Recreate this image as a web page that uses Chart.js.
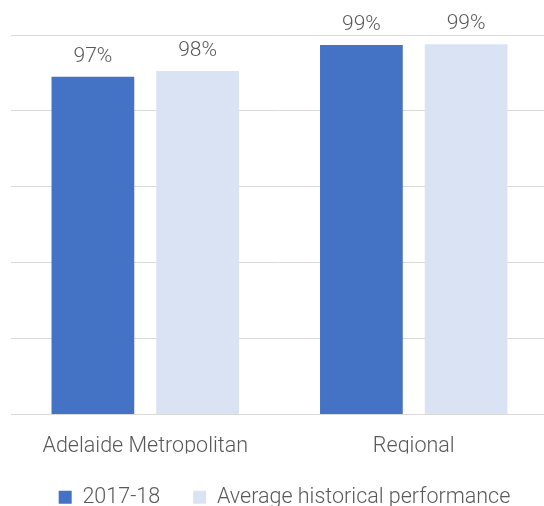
<!DOCTYPE html>
<html>
<head>
<meta charset="utf-8">
<script src="https://cdn.jsdelivr.net/npm/chart.js@4/dist/chart.umd.min.js"></script>
<style>
    html, body { margin: 0; padding: 0; background: #fff; }
    #frame { width: 544px; height: 506px; overflow: hidden; position: relative; }
    #wrap { width: 550px; height: 506px; position: absolute; left: 0; top: 0; }
</style>
</head>
<body>
<div id="frame">
    <div id="wrap"><canvas id="regionChart"></canvas></div>
</div>
<script>
// ============================================
// Data
// ============================================
const regions = ['Adelaide Metropolitan', 'Regional'];
const current = [0.9725, 0.9934];      // 2017-18
const historical = [0.9763, 0.9939];   // Average historical performance
const seriesNames = ['2017-18', 'Average historical performance'];

const axisMin = 0.75;
const axisMax = 1.0;
const axisStep = 0.05;

const textColor = '#595959';
const fontFamily = 'Roboto, "Noto Sans", sans-serif';

// ============================================
// Value labels above each bar
// ============================================
const valueLabels = {
    id: 'valueLabels',
    afterDatasetsDraw(chart) {
        const ctx = chart.ctx;
        ctx.save();
        ctx.fillStyle = textColor;
        ctx.font = '300 21px ' + fontFamily;
        ctx.textAlign = 'center';
        ctx.textBaseline = 'alphabetic';
        chart.data.datasets.forEach((ds, i) => {
            chart.getDatasetMeta(i).data.forEach((bar, j) => {
                const txt = Math.round(ds.data[j] * 100) + '%';
                ctx.fillText(txt, bar.x, bar.y - 15);
            });
        });
        ctx.restore();
    }
};

// nudge the legend a little to the right of centre
const legendShift = {
    id: 'legendShift',
    afterLayout(chart) {
        if (chart.legend) {
            chart.legend.left += 5;
            chart.legend.right += 5;
        }
    }
};

new Chart(document.getElementById('regionChart'), {
    type: 'bar',
    data: {
        labels: regions,
        datasets: [
            {
                label: seriesNames[0],
                data: current,
                backgroundColor: '#4472C4',
                barPercentage: 0.79,
                categoryPercentage: 0.78
            },
            {
                label: seriesNames[1],
                data: historical,
                backgroundColor: '#DAE3F3',
                barPercentage: 0.79,
                categoryPercentage: 0.78
            }
        ]
    },
    options: {
        responsive: true,
        maintainAspectRatio: false,
        animation: false,
        layout: {
            padding: { left: 11, right: 2, top: 35, bottom: -12 }
        },
        plugins: {
            legend: {
                position: 'bottom',
                labels: {
                    color: textColor,
                    font: { family: fontFamily, size: 21.5, weight: 300 },
                    boxWidth: 13,
                    boxHeight: 13,
                    padding: 33
                }
            },
            tooltip: { enabled: false }
        },
        scales: {
            x: {
                clip: false,
                grid: { display: false },
                border: { display: true, color: '#d9d9d9', width: 1 },
                ticks: {
                    color: textColor,
                    font: { family: fontFamily, size: 21.5, weight: 300 },
                    padding: 12
                },
                // fixed band under the plot for the category names
                afterFit(scale) {
                    scale.height = 39.5;
                }
            },
            y: {
                min: axisMin,
                max: axisMax,
                grid: { color: '#d9d9d9', lineWidth: 1, drawTicks: false },
                border: { display: false },
                ticks: { display: false, stepSize: axisStep }
            }
        }
    },
    plugins: [valueLabels, legendShift]
});
</script>
</body>
</html>
